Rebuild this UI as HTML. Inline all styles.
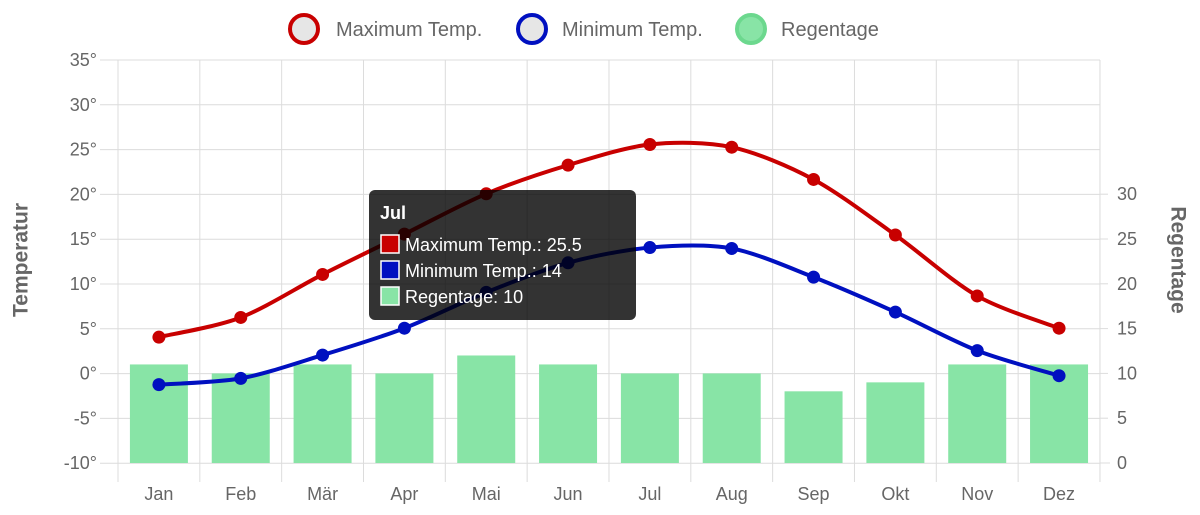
<!DOCTYPE html>
<html><head><meta charset="utf-8"><style>
html,body{margin:0;padding:0;background:#fff;width:1200px;height:515px;overflow:hidden}
text{font-family:"Liberation Sans",Helvetica,Arial,sans-serif}
</style></head><body>
<svg id="s" width="1200" height="515" xmlns="http://www.w3.org/2000/svg">
<g id="grid" stroke="#dcdcdc" stroke-width="1"></g>
<g id="bars" fill="#88e4a6"></g>
<path id="pmax" fill="none" stroke="#c80000" stroke-width="4"/>
<path id="pmin" fill="none" stroke="#0010c0" stroke-width="4"/>
<g id="pts"></g>
<g id="labels" fill="#666" font-size="18"></g>
<text x="22" y="260" transform="rotate(-90 22 260)" text-anchor="middle" dominant-baseline="middle" font-size="21" font-weight="bold" fill="#666">Temperatur</text>
<text x="1177" y="260" transform="rotate(90 1177 260)" text-anchor="middle" dominant-baseline="middle" font-size="21" font-weight="bold" fill="#666">Regentage</text>
<g font-size="20" fill="#666">
<circle cx="304" cy="29" r="14" fill="#e6e6e6" stroke="#c80000" stroke-width="4"/>
<text x="336" y="36">Maximum Temp.</text>
<circle cx="532" cy="29" r="14" fill="#e6e6e6" stroke="#0010c0" stroke-width="4"/>
<text x="562" y="36">Minimum Temp.</text>
<circle cx="751" cy="29" r="14" fill="#88e4a6" stroke="#6cd88e" stroke-width="4"/>
<text x="781" y="36">Regentage</text>
</g>
<g>
<rect x="369" y="190" width="267" height="130" rx="6" fill="rgba(0,0,0,0.8)"/>
<text x="380" y="219" fill="#fff" font-size="18" font-weight="bold">Jul</text>
<rect x="381" y="235" width="18" height="18" fill="#c80000" stroke="#fff" stroke-width="1.5"/>
<text x="405" y="251" fill="#fff" font-size="18">Maximum Temp.: 25.5</text>
<rect x="381" y="261" width="18" height="18" fill="#0010c0" stroke="#fff" stroke-width="1.5"/>
<text x="405" y="277" fill="#fff" font-size="18">Minimum Temp.: 14</text>
<rect x="381" y="287" width="18" height="18" fill="#88e4a6" stroke="#fff" stroke-width="1.5"/>
<text x="405" y="303" fill="#fff" font-size="18">Regentage: 10</text>
</g>
</svg>
<script>
var NS="http://www.w3.org/2000/svg";
function el(p,t,a,txt){var e=document.createElementNS(NS,t);for(var k in a)e.setAttribute(k,a[k]);if(txt!=null)e.textContent=txt;document.getElementById(p).appendChild(e);return e;}
var X0=118,W=81.83,Y0=373,K=8.96;
function Y(v){return Y0-v*K;}
for(var i=0;i<=9;i++){var y=60+i*44.8;el("grid","line",{x1:100,x2:1100,y1:y,y2:y});el("labels","text",{x:97,y:y+6,"text-anchor":"end"},(35-5*i)+"°");}
for(var i=0;i<=12;i++){var x=X0+i*W;el("grid","line",{x1:x,x2:x,y1:60,y2:482});}
el("grid","line",{x1:1100,x2:1110,y1:463,y2:463});
for(var r=0;r<=30;r+=5){var y=463-r*K;el("grid","line",{x1:1100,x2:1108,y1:y,y2:y});el("labels","text",{x:1117,y:y+6},""+r);}
var mon=["Jan","Feb","Mär","Apr","Mai","Jun","Jul","Aug","Sep","Okt","Nov","Dez"];
var mx=[4,6.2,11,15.5,20,23.2,25.5,25.2,21.6,15.4,8.6,5];
var mn=[-1.3,-0.6,2,5,9,12.3,14,13.9,10.7,6.8,2.5,-0.3];
var rn=[11,10,11,10,12,11,10,10,8,9,11,11];
for(var i=0;i<12;i++){var cx=X0+W*(i+0.5);el("labels","text",{x:cx,y:500,"text-anchor":"middle"},mon[i]);
el("bars","rect",{x:cx-29,y:463-rn[i]*K,width:58,height:rn[i]*K});}
function path(d){var p=d.map(function(v,i){return[X0+W*(i+0.5),Y(v)]});var s="M"+p[0][0]+","+p[0][1];var t=0.15;
for(var i=0;i<p.length-1;i++){var a=p[Math.max(i-1,0)],b=p[i],c=p[i+1],e=p[Math.min(i+2,p.length-1)];
s+=" C"+(b[0]+(c[0]-a[0])*t)+","+(b[1]+(c[1]-a[1])*t)+" "+(c[0]-(e[0]-b[0])*t)+","+(c[1]-(e[1]-b[1])*t)+" "+c[0]+","+c[1];}
return s;}
document.getElementById("pmax").setAttribute("d",path(mx));
document.getElementById("pmin").setAttribute("d",path(mn));
for(var i=0;i<12;i++){var cx=X0+W*(i+0.5);
el("pts","circle",{cx:cx,cy:Y(mx[i]),r:6.5,fill:"#c80000"});
el("pts","circle",{cx:cx,cy:Y(mn[i]),r:6.5,fill:"#0010c0"});}
</script>
</body></html>
